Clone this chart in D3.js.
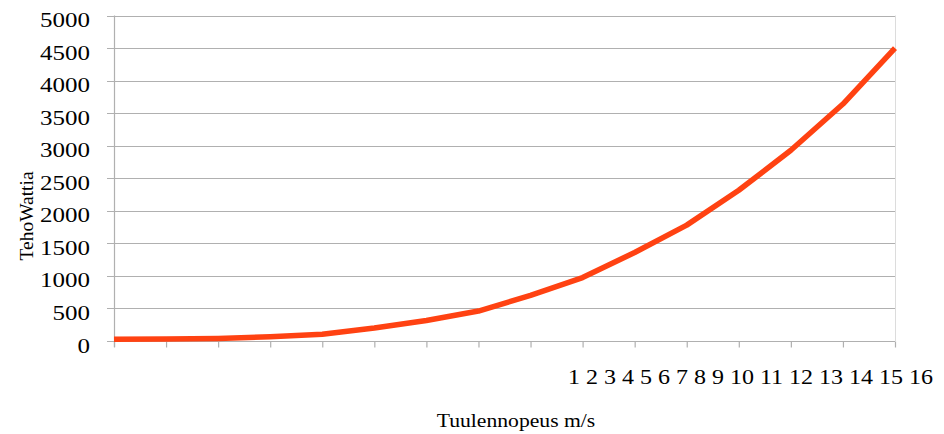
<!DOCTYPE html>
<html>
<head>
<meta charset="utf-8">
<script src="https://cdn.jsdelivr.net/npm/d3@7"></script>
<style>
  html, body { margin: 0; padding: 0; background: #fff; }
  svg { display: block; }
  text { font-family: "Liberation Serif", "Times New Roman", serif; fill: #000; }
</style>
</head>
<body>
<svg id="chart" width="944" height="434"></svg>
<script>
// Data
const categories = ["1","2","3","4","5","6","7","8","9","10","11","12","13","14","15","16"];
const power = [25, 30, 40, 65, 105, 200, 315, 460, 700, 975, 1360, 1780, 2315, 2930, 3640, 4500];
const yTicks = [0, 500, 1000, 1500, 2000, 2500, 3000, 3500, 4000, 4500, 5000];
const yTitle = "TehoWattia";
const xTitle = "Tuulennopeus m/s";

const svg = d3.select("#chart");
const pLeft = 114, pRight = 895, pTop = 15.5, pBottom = 341;

const x = d3.scalePoint().domain(categories).range([pLeft, pRight]);
const y = d3.scaleLinear().domain([0, 5000]).range([pBottom, pTop]);

// gridlines
svg.append("g").selectAll("line").data(yTicks).join("line")
  .attr("x1", pLeft - 7).attr("x2", pRight)
  .attr("y1", d => Math.round(y(d)) + 0.5).attr("y2", d => Math.round(y(d)) + 0.5)
  .attr("stroke", "#b0b0b0").attr("stroke-width", 1.2);

// right border
svg.append("line").attr("x1", pRight + 0.5).attr("x2", pRight + 0.5)
  .attr("y1", pTop).attr("y2", pBottom).attr("stroke", "#dcdcdc").attr("stroke-width", 1);

// bottom axis ticks (no labels)
const xAxis = d3.axisBottom(x).tickSize(6).tickFormat("");
const gx = svg.append("g").attr("transform", `translate(0,${Math.round(pBottom) + 0.5})`).call(xAxis);
gx.select(".domain").remove();
gx.selectAll(".tick line").attr("stroke", "#b0b0b0").attr("stroke-width", 1.2);

// left axis line
svg.append("line").attr("x1", pLeft + 0.5).attr("x2", pLeft + 0.5)
  .attr("y1", pTop).attr("y2", pBottom + 6).attr("stroke", "#b0b0b0").attr("stroke-width", 1.2);

// y tick labels (stretched horizontally like the reference)
svg.append("g").selectAll("g").data(yTicks).join("g")
  .attr("transform", d => `translate(90,${y(d) + 11.5}) scale(1.25,1)`)
  .append("text")
  .attr("text-anchor", "end")
  .attr("font-size", 20)
  .text(d => d);

// x category labels (rendered as a run, as in the reference)
const xl = svg.append("g").attr("transform", "translate(933,383.5) scale(1.2,1)")
  .append("text").attr("text-anchor", "end").attr("font-size", 20);
xl.text(categories.join(" "));

// line
const line = d3.line().x((d, i) => x(categories[i])).y(d => y(d));
svg.append("path").datum(power)
  .attr("d", line)
  .attr("fill", "none")
  .attr("stroke", "#ff4212")
  .attr("stroke-width", 5.5)
  .attr("stroke-linejoin", "round");

// axis titles
svg.append("text")
  .attr("transform", "translate(33,216) rotate(-90)")
  .attr("text-anchor", "middle")
  .attr("font-size", 19.5)
  .text(yTitle);

svg.append("g").attr("transform", "translate(516,427) scale(1.11,1)")
  .append("text")
  .attr("text-anchor", "middle")
  .attr("font-size", 19.5)
  .text(xTitle);
</script>
</body>
</html>
